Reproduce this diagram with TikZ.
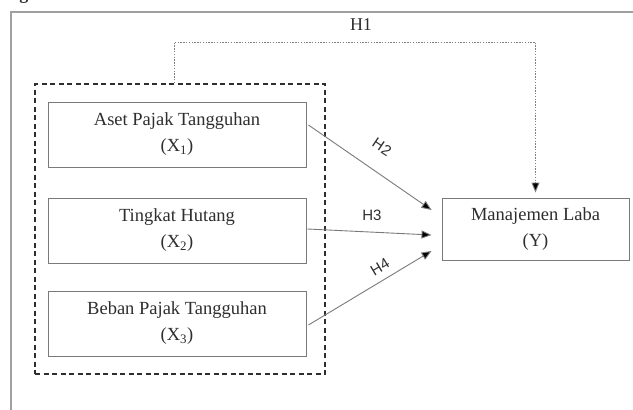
\documentclass[tikz,border=0pt]{standalone}
\usepackage{fontspec}
\setmainfont{Liberation Serif}
\newfontfamily\labfont{Liberation Sans}
\usetikzlibrary{arrows.meta,calc}
\definecolor{framegray}{HTML}{A0A0A0}
\definecolor{boxgray}{HTML}{7A7A7A}
\definecolor{inkdark}{HTML}{2E2E2E}
\tikzset{
  varbox/.style={draw=boxgray, line width=0.9pt, minimum width=258pt, minimum height=65pt,
    align=center, font=\fontsize{18.5}{26}\selectfont, text=inkdark, inner sep=0pt},
  groupbox/.style={draw=inkdark, line width=1.6pt, dash pattern=on 5pt off 3.5pt,
    minimum width=290pt, minimum height=290pt, inner sep=0pt},
  link/.style={draw=boxgray, line width=0.9pt, -{Triangle[length=10pt,width=8pt,fill=black]}},
  hyplink/.style={draw=gray, line width=0.9pt, dash pattern=on 1.4pt off 1.4pt,
    -{Triangle[length=10pt,width=8pt,fill=black]}},
  hlab/.style={font=\labfont\fontsize{15}{15}\selectfont, text=inkdark, inner sep=0pt},
}
\begin{document}
\begin{tikzpicture}[x=1pt, y=-1pt]
\useasboundingbox (0,0) rectangle (633,410);
% fragment of the caption above the frame
\node[anchor=base, font=\bfseries\fontsize{18}{18}\selectfont, text=inkdark, inner sep=0pt] (cap) at (24,-1) {g};
% outer frame
\draw[framegray, line width=1.2pt] (11,420) -- (11,12) -- (645,12);
% variable boxes
\node[groupbox] (grp) at (180,229) {};
\node[varbox] (x1) at (177,134.5) {Aset Pajak Tangguhan\\(X\textsubscript{1})};
\node[varbox] (x2) at (177,230.5) {Tingkat Hutang\\(X\textsubscript{2})};
\node[varbox] (x3) at (177,323.5) {Beban Pajak Tangguhan\\(X\textsubscript{3})};
\node[varbox, minimum width=187pt, minimum height=62pt] (y) at (535.5,229) {Manajemen Laba\\(Y)};
% arrow end points in front of the dependent variable
\coordinate (e2) at ($(y.west)+(-10,-19)$);
\coordinate (e3) at ($(y.west)+(-10,6)$);
\coordinate (e4) at ($(y.west)+(-10,22)$);
% partial hypotheses
\draw[link] ($(x1.east)+(2,-9.5)$) -- (e2);
\draw[link] ($(x2.east)+(1,-1.5)$) -- (e3);
\draw[link] ($(x3.east)+(2,1.5)$) -- (e4);
% simultaneous hypothesis
\coordinate (h1a) at ($(grp.north)+(-6,0)$);
\draw[hyplink, shorten >=5pt] (h1a) -- (h1a |- 0,42) -- (y.north |- 0,42) -- (y.north);
% labels
\node[font=\fontsize{18}{18}\selectfont, text=inkdark, inner sep=0pt] (l1) at (361,25) {H1};
\node[hlab, rotate=-34] (l2) at (382,147) {H2};
\node[hlab] (l3) at (372,215) {H3};
\node[hlab, rotate=31] (l4) at (380,267) {H4};
\end{tikzpicture}
\end{document}
